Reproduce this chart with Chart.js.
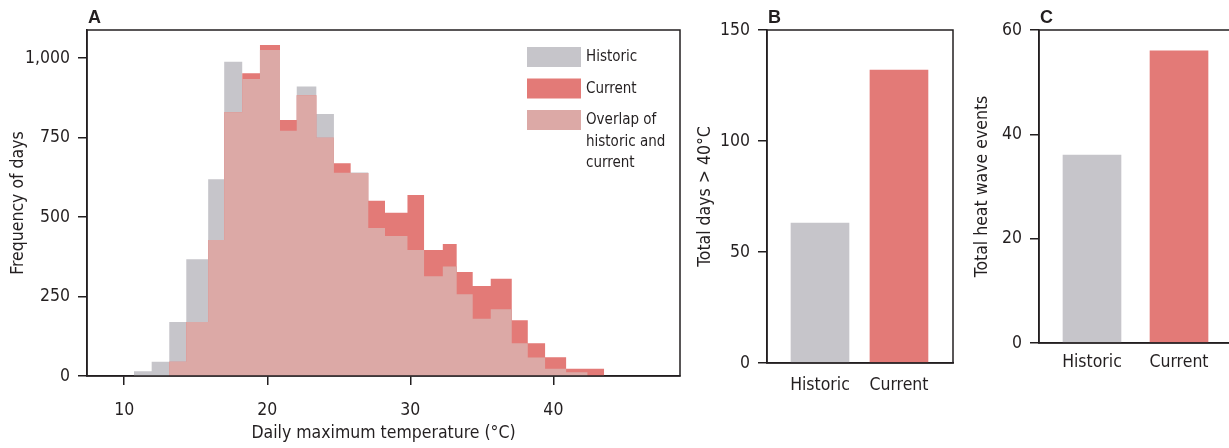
<!DOCTYPE html>
<html>
<head>
<meta charset="utf-8">
<title>Daily maximum temperature</title>
<script src="https://cdn.jsdelivr.net/npm/chart.js@4.4.1/dist/chart.umd.min.js"></script>
<style>
  html, body { margin: 0; padding: 0; background: #fff; overflow: hidden; }
  body { position: relative; width: 1229px; height: 448px; }
  canvas { position: absolute; top: 0; }
  #chartA { left: 0; }
  #chartB { left: 690px; }
  #chartC { left: 966px; }
</style>
</head>
<body>
<canvas id="chartA" width="700" height="448"></canvas>
<canvas id="chartB" width="280" height="448"></canvas>
<canvas id="chartC" width="300" height="448"></canvas>
<script>
// histogram bin edges (°C), shared by both periods
const binEdges = [10.68, 11.92, 13.15, 14.34, 15.87, 16.99, 18.25, 19.49, 20.89, 22.06,
  23.43, 24.66, 25.83, 27.06, 28.23, 29.80, 30.96, 32.27, 33.24, 34.36,
  35.62, 37.09, 38.21, 39.42, 40.89, 42.38, 43.55];
// days per bin
const historicDays = [15, 45, 170, 367, 619, 988, 934, 1025, 771, 910,
  824, 639, 640, 465, 440, 396, 314, 344, 257, 180,
  210, 103, 58, 23, 12, 0];
const currentDays = [0, 0, 45, 170, 428, 829, 952, 1041, 805, 883,
  749, 669, 638, 551, 513, 569, 396, 415, 327, 283,
  306, 175, 103, 59, 23, 23];
const tempTicks = [10, 20, 30, 40];
const freqTicks = [0, 250, 500, 750, 1000];

const periods = ["Historic", "Current"];
const daysOver40 = [63, 132];
const heatWaveEvents = [36, 56];
const daysTicks = [0, 50, 100, 150];
const eventTicks = [0, 20, 40, 60];

const GREY = "#c6c5ca";
const RED = "#e37a77";
const PINK = "#dca9a6";
const INK = "#231f20";
const FONT = "'DejaVu Sans Condensed', 'Liberation Sans Narrow', sans-serif";
const SIZE = 17.5;

Chart.defaults.font.family = FONT;
Chart.defaults.font.size = SIZE;
Chart.defaults.color = INK;

// part of each bin shared by both periods
const overlapDays = historicDays.map((v, i) => Math.min(v, currentDays[i]));

// one point per left edge; the last edge repeats the last bin so the step closes
function steps(values) {
  return binEdges.map((x, i) => ({ x: x, y: values[Math.min(i, values.length - 1)] }));
}

// box round the plot area and the bold panel letter
const framePlugin = {
  id: "frame",
  afterDraw(chart, args, opts) {
    const { ctx, chartArea: a } = chart;
    ctx.save();
    ctx.strokeStyle = INK;
    ctx.lineWidth = 1.5;
    ctx.strokeRect(a.left, a.top, a.right - a.left, a.bottom - a.top);
    ctx.fillStyle = INK;
    ctx.font = "bold 18px 'Liberation Sans', Arial, sans-serif";
    ctx.textBaseline = "alphabetic";
    ctx.fillText(opts.letter, a.left + 1, a.top - 7.5);
    ctx.restore();
  }
};

// swatch legend inside panel A, labels may wrap over several lines
const keyPlugin = {
  id: "key",
  afterDraw(chart, args, opts) {
    const { ctx, chartArea: a } = chart;
    ctx.save();
    ctx.font = "15px " + FONT;
    ctx.textBaseline = "middle";
    let y = a.top + opts.top;
    opts.items.forEach((idx) => {
      const ds = chart.data.datasets[idx];
      ctx.fillStyle = ds.backgroundColor;
      ctx.fillRect(a.left + opts.left, y, 54, 20);
      ctx.fillStyle = INK;
      ds.label.split("\n").forEach((line, j) => {
        ctx.fillText(line, a.left + opts.left + 59, y + 10.5 + j * 21.3);
      });
      y += 31.5;
    });
    ctx.restore();
  }
};

function axisTitle(text, padding) {
  return { display: true, text: text, color: INK, padding: padding };
}

const tickGrid = { drawOnChartArea: false, tickLength: 9, color: INK, lineWidth: 1.5 };
const axisBorder = { color: INK, width: 1.5 };

// A: histogram of daily maximum temperature
new Chart(document.getElementById("chartA"), {
  type: "line",
  data: {
    datasets: [
      { label: "Overlap of\nhistoric and\ncurrent", data: steps(overlapDays), backgroundColor: PINK, order: 1 },
      { label: "Current", data: steps(currentDays), backgroundColor: RED, order: 2 },
      { label: "Historic", data: steps(historicDays), backgroundColor: GREY, order: 3 }
    ]
  },
  options: {
    responsive: false,
    animation: false,
    events: [],
    layout: { padding: { top: 30, right: 20, left: 0, bottom: 0 } },
    datasets: {
      line: { stepped: true, fill: "origin", borderWidth: 0, borderColor: "transparent", pointRadius: 0 }
    },
    plugins: {
      legend: { display: false },
      tooltip: { enabled: false },
      frame: { letter: "A" },
      key: { left: 440, top: 17, items: [2, 1, 0] }
    },
    scales: {
      x: {
        type: "linear",
        min: 7.4,
        max: 48.85,
        afterBuildTicks: (s) => { s.ticks = tempTicks.map((v) => ({ value: v })); },
        afterFit: (s) => { s.height = 72; },
        grid: tickGrid,
        border: axisBorder,
        ticks: { padding: 15, color: INK, maxRotation: 0 },
        title: axisTitle("Daily maximum temperature (°C)", { top: 0, bottom: 4.5 })
      },
      y: {
        min: 0,
        max: 1088,
        afterBuildTicks: (s) => { s.ticks = freqTicks.map((v) => ({ value: v })); },
        afterFit: (s) => { s.width = 87; },
        grid: tickGrid,
        border: axisBorder,
        ticks: { padding: 8, color: INK, callback: (v) => v.toLocaleString("en-US") },
        title: axisTitle("Frequency of days", { top: 7.5, bottom: 0 })
      }
    }
  },
  plugins: [framePlugin, keyPlugin]
});

// B and C: totals per period
function totalsChart(id, letter, values, yTicks, yMax, yTitle, xRange, yWidth, xHeight, padRight, titlePad, labelPad) {
  return new Chart(document.getElementById(id), {
    type: "bar",
    data: {
      datasets: [{
        data: values.map((v, i) => ({ x: i, y: v })),
        backgroundColor: [GREY, RED],
        barThickness: 58
      }]
    },
    options: {
      responsive: false,
      animation: false,
      events: [],
      layout: { padding: { top: 30, right: padRight, left: 0, bottom: 0 } },
      plugins: {
        legend: { display: false },
        tooltip: { enabled: false },
        frame: { letter: letter }
      },
      scales: {
        x: {
          type: "linear",
          offset: false,
          min: xRange[0],
          max: xRange[1],
          afterBuildTicks: (s) => { s.ticks = periods.map((p, i) => ({ value: i })); },
          afterFit: (s) => { s.height = xHeight; },
          grid: { display: false, drawTicks: false, offset: false },
          border: axisBorder,
          ticks: { padding: labelPad, color: INK, maxRotation: 0, callback: (v) => periods[v] }
        },
        y: {
          min: 0,
          max: yMax,
          afterBuildTicks: (s) => { s.ticks = yTicks.map((v) => ({ value: v })); },
          afterFit: (s) => { s.width = yWidth; },
          grid: tickGrid,
          border: axisBorder,
          ticks: { padding: 8, color: INK },
          title: axisTitle(yTitle, { top: titlePad, bottom: 0 })
        }
      }
    },
    plugins: [framePlugin]
  });
}

totalsChart("chartB", "B", daysOver40, daysTicks, 150, "Total days > 40°C",
  [-0.671, 1.684], 77, 85, 17, 4.5, 12);
totalsChart("chartC", "C", heatWaveEvents, eventTicks, 60, "Total heat wave events",
  [-0.609, 1.609], 73, 105, 34, 5.5, 8.5);
</script>
</body>
</html>
